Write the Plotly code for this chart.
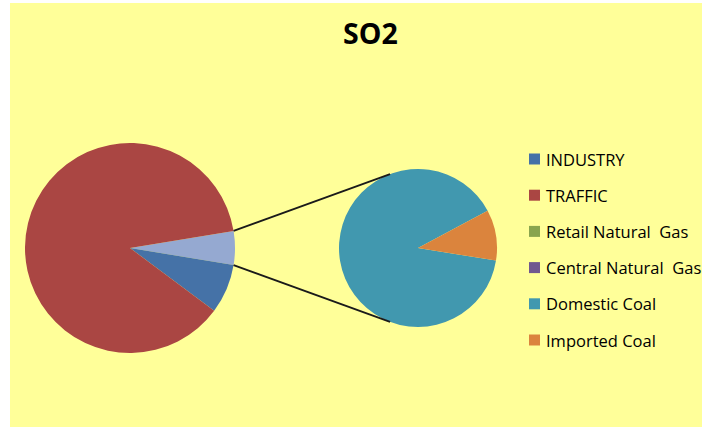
import math
import plotly.graph_objects as go

# ---- data ----
categories = ["INDUSTRY", "TRAFFIC", "Retail Natural  Gas", "Central Natural  Gas", "Domestic Coal", "Imported Coal"]
values = [7.6, 87.2, 0.0, 0.0, 4.66, 0.54]
colors = ["#4572A7", "#AA4643", "#89A54E", "#71588F", "#4198AF", "#DB843D"]
main_labels = ["Other", "INDUSTRY", "TRAFFIC"]
sub_labels = ["Retail Natural  Gas", "Central Natural  Gas", "Domestic Coal", "Imported Coal"]
other_color = "#95A9D1"

W, H = 702, 428
def px(x): return x / W
def py(y): return 1 - y / H

val = dict(zip(categories, values))
col = dict(zip(categories, colors))
other_total = sum(val[k] for k in sub_labels)
main_values = [other_total, val["INDUSTRY"], val["TRAFFIC"]]
total = sum(main_values)
half_other_deg = 360 * other_total / total / 2

# geometry (pixels)
c1x, c1y, r1 = 130, 248, 105
c2x, c2y, r2 = 418, 248, 79

fig = go.Figure()

fig.add_trace(go.Pie(
    labels=main_labels, values=main_values, sort=False, direction="clockwise",
    rotation=90 - half_other_deg,
    marker=dict(colors=[other_color, col["INDUSTRY"], col["TRAFFIC"]], line=dict(width=0)),
    textinfo="none", hoverinfo="label+value", showlegend=False,
    domain=dict(x=[px(c1x - r1), px(c1x + r1)], y=[py(c1y + r1), py(c1y - r1)]),
))

# second pie: Domestic Coal starts at upper edge of the orange slice, going counterclockwise
fig.add_trace(go.Pie(
    labels=sub_labels, values=[val[k] for k in sub_labels], sort=False, direction="counterclockwise",
    rotation=61.8,
    marker=dict(colors=[col[k] for k in sub_labels], line=dict(width=0)),
    textinfo="none", hoverinfo="label+value", showlegend=False,
    domain=dict(x=[px(c2x - r2), px(c2x + r2)], y=[py(c2y + r2), py(c2y - r2)]),
))

shapes = [dict(type="rect", xref="paper", yref="paper", x0=px(10), x1=px(702), y0=py(427), y1=py(3),
               fillcolor="#FFFF99", line=dict(width=0), layer="below")]

# connector lines
h = math.radians(half_other_deg)
a2 = math.radians(110.7)
for s in (1, -1):
    x0 = c1x + r1 * math.cos(h)
    y0 = c1y - s * r1 * math.sin(h)
    x1 = c2x + r2 * math.cos(a2)
    y1 = c2y - s * r2 * math.sin(a2)
    shapes.append(dict(type="line", xref="paper", yref="paper", x0=px(x0), y0=py(y0), x1=px(x1), y1=py(y1),
                       line=dict(color="#1a1a1a", width=1.8)))

annotations = [dict(text="<b>SO2</b>", x=px(370), y=py(33), xref="paper", yref="paper",
                    xanchor="center", yanchor="middle", showarrow=False,
                    font=dict(family="Open Sans", size=28.5, color="#000000"))]

# legend
row0, step = 159, 36.2
for i, name in enumerate(categories):
    yc = row0 + i * step
    shapes.append(dict(type="rect", xref="paper", yref="paper", x0=px(529), x1=px(540),
                       y0=py(yc + 5.5), y1=py(yc - 5.5), fillcolor=col[name], line=dict(width=0)))
    annotations.append(dict(text=name.replace("  ", "&nbsp; "), x=px(544), y=py(yc), xref="paper", yref="paper",
                            xanchor="left", yanchor="middle", showarrow=False,
                            font=dict(family="Open Sans", size=16.5, color="#000000")))

fig.update_layout(
    width=W, height=H, margin=dict(l=0, r=0, t=0, b=0),
    paper_bgcolor="#FFFFFF", plot_bgcolor="#FFFFFF",
    shapes=shapes, annotations=annotations, showlegend=False,
)

fig.write_html("out.html", config={"displayModeBar": False},
               post_script="document.body.style.margin='0';document.body.style.overflow='hidden';")
